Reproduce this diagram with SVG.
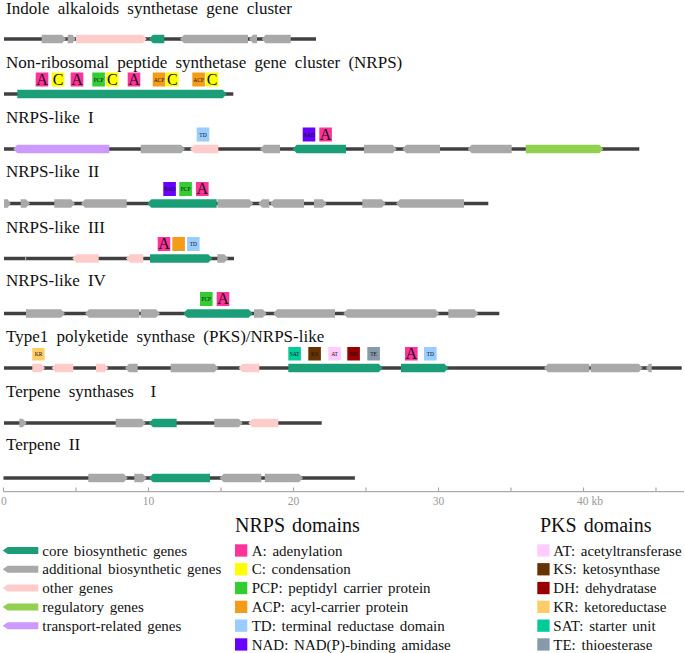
<svg xmlns="http://www.w3.org/2000/svg" width="685" height="653" viewBox="0 0 685 653">
<style>
text{font-family:"Liberation Serif","Times New Roman",serif;fill:#111}
.t{font-size:17px;word-spacing:4px}
.ln{stroke:#404040;stroke-width:3.5}
.core{fill:#1b9e77}.add{fill:#a9a9a9}.oth{fill:#ffcccc}.reg{fill:#92d050}.tr{fill:#cc99ff}
.dA{fill:#ff3399}.dC{fill:#ffff00}.dPCP{fill:#33cc33}.dACP{fill:#f39c1a}.dTD{fill:#99ccff}.dNAD{fill:#6600ff}
.dAT{fill:#ffccff}.dKS{fill:#663300}.dDH{fill:#990000}.dKR{fill:#ffcc66}.dSAT{fill:#00cc99}.dTE{fill:#8899aa}
.big{font-size:16px;text-anchor:middle}
.sm{font-size:5.5px;text-anchor:middle}
.ax{stroke:#aaaaaa;stroke-width:1.2;fill:none}
.axl{font-size:11.5px;fill:#999;text-anchor:middle}
.lg{font-size:15px;word-spacing:2px}
.hd{font-size:20px;word-spacing:2px}
</style>

<g id="track-indole" transform="translate(0,39)">
<text class="t" x="6" y="-25.5">Indole alkaloids synthetase gene cluster</text>
<line class="ln" x1="4" y1="0" x2="316" y2="0"/>
<polygon class="add" points="41.7,-4.25 62,-4.25 66,0 62,4.25 41.7,4.25"/>
<polygon class="add" points="67.7,-4.25 72.5,-4.25 75.5,0 72.5,4.25 67.7,4.25"/>
<polygon class="oth" points="76,-4.25 142.7,-4.25 146.7,0 142.7,4.25 76,4.25"/>
<polygon class="core" points="149,0 153,-4.25 164.3,-4.25 164.3,4.25 153,4.25"/>
<polygon class="add" points="180,0 184,-4.25 248,-4.25 248,4.25 184,4.25"/>
<polygon class="add" points="249,0 253,-4.25 257,-4.25 257,4.25 253,4.25"/>
<polygon class="add" points="261.7,0 265.7,-4.25 290.7,-4.25 290.7,4.25 265.7,4.25"/>
</g>

<g id="track-nrps" transform="translate(0,94)">
<text class="t" x="6" y="-25.7">Non-ribosomal peptide synthetase gene cluster (NRPS)</text>
<rect class="dA" x="35.7" y="-21.5" width="12.6" height="14"/><text class="big" x="42" y="-9.5">A</text>
<rect class="dC" x="51.7" y="-21.5" width="12.6" height="14"/><text class="big" x="58" y="-9.5">C</text>
<rect class="dA" x="70.7" y="-21.5" width="12.6" height="14"/><text class="big" x="77" y="-9.5">A</text>
<rect class="dPCP" x="92.3" y="-21.5" width="12.6" height="14"/><text class="sm" x="98.6" y="-12.5">PCP</text>
<rect class="dC" x="106" y="-21.5" width="12.6" height="14"/><text class="big" x="112.3" y="-9.5">C</text>
<rect class="dA" x="127.7" y="-21.5" width="12.6" height="14"/><text class="big" x="134" y="-9.5">A</text>
<rect class="dACP" x="152.7" y="-21.5" width="12.6" height="14"/><text class="sm" x="159" y="-12.5">ACP</text>
<rect class="dC" x="166" y="-21.5" width="12.6" height="14"/><text class="big" x="172.3" y="-9.5">C</text>
<rect class="dACP" x="192.3" y="-21.5" width="12.6" height="14"/><text class="sm" x="198.6" y="-12.5">ACP</text>
<rect class="dC" x="205.7" y="-21.5" width="12.6" height="14"/><text class="big" x="212" y="-9.5">C</text>
<line class="ln" x1="4" y1="0" x2="233.3" y2="0"/>
<polygon class="core" points="17.3,-4.25 222.7,-4.25 226.7,0 222.7,4.25 17.3,4.25"/>
</g>

<g id="track-nrps-like-1" transform="translate(0,149)">
<text class="t" x="6" y="-25.7">NRPS-like I</text>
<rect class="dTD" x="196.7" y="-21.5" width="12.6" height="14"/><text class="sm" x="203" y="-12.5">TD</text>
<rect class="dNAD" x="302.7" y="-21.5" width="12.6" height="14"/><text class="sm" x="309" y="-12.5">NAD</text>
<rect class="dA" x="319.3" y="-21.5" width="12.6" height="14"/><text class="big" x="325.6" y="-9.5">A</text>
<line class="ln" x1="4" y1="0" x2="639.3" y2="0"/>
<polygon class="tr" points="13.3,0 17.3,-4.25 109.3,-4.25 109.3,4.25 17.3,4.25"/>
<polygon class="add" points="140.7,-4.25 181,-4.25 185,0 181,4.25 140.7,4.25"/>
<polygon class="oth" points="190,0 194,-4.25 218.3,-4.25 218.3,4.25 194,4.25"/>
<polygon class="add" points="260,0 264,-4.25 280,-4.25 280,4.25 264,4.25"/>
<polygon class="core" points="292.7,0 296.7,-4.25 346,-4.25 346,4.25 296.7,4.25"/>
<polygon class="add" points="364,-4.25 392.7,-4.25 396.7,0 392.7,4.25 364,4.25"/>
<polygon class="add" points="402.3,0 406.3,-4.25 440,-4.25 440,4.25 406.3,4.25"/>
<polygon class="add" points="467.7,0 471.7,-4.25 511.7,-4.25 511.7,4.25 471.7,4.25"/>
<polygon class="reg" points="525.7,-4.25 599.3,-4.25 603.3,0 599.3,4.25 525.7,4.25"/>
</g>

<g id="track-nrps-like-2" transform="translate(0,203.5)">
<text class="t" x="6" y="-26.5">NRPS-like II</text>
<rect class="dNAD" x="163.3" y="-21.5" width="12.6" height="14"/><text class="sm" x="169.6" y="-12.5">NAD</text>
<rect class="dPCP" x="179.3" y="-21.5" width="12.6" height="14"/><text class="sm" x="185.6" y="-12.5">PCP</text>
<rect class="dA" x="196" y="-21.5" width="12.6" height="14"/><text class="big" x="202.3" y="-9.5">A</text>
<line class="ln" x1="4" y1="0" x2="488.3" y2="0"/>
<polygon class="add" points="4,-4.25 7.7,-4.25 10.7,0 7.7,4.25 4,4.25"/>
<polygon class="add" points="20.7,-4.25 26,-4.25 30,0 26,4.25 20.7,4.25"/>
<polygon class="add" points="54.3,-4.25 71,-4.25 75,0 71,4.25 54.3,4.25"/>
<polygon class="add" points="81,0 85,-4.25 126.7,-4.25 126.7,4.25 85,4.25"/>
<polygon class="core" points="147.3,0 151.3,-4.25 216.7,-4.25 216.7,4.25 151.3,4.25"/>
<polygon class="add" points="217.5,-4.25 249.3,-4.25 253.3,0 249.3,4.25 217.5,4.25"/>
<polygon class="add" points="258.3,0 262.3,-4.25 269.3,-4.25 269.3,4.25 262.3,4.25"/>
<polygon class="add" points="270,0 274,-4.25 304,-4.25 304,4.25 274,4.25"/>
<polygon class="add" points="314,-4.25 322.7,-4.25 326.7,0 322.7,4.25 314,4.25"/>
<polygon class="add" points="362.3,-4.25 381.7,-4.25 385.7,0 381.7,4.25 362.3,4.25"/>
<polygon class="add" points="396,0 400,-4.25 464,-4.25 464,4.25 400,4.25"/>
</g>

<g id="track-nrps-like-3" transform="translate(0,258.5)">
<text class="t" x="6" y="-25.8">NRPS-like III</text>
<rect class="dA" x="157.7" y="-21.5" width="12.6" height="14"/><text class="big" x="164" y="-9.5">A</text>
<rect class="dACP" x="172.3" y="-21.5" width="12.6" height="14"/>
<rect class="dTD" x="187" y="-21.5" width="12.6" height="14"/><text class="sm" x="193.3" y="-12.5">TD</text>
<line class="ln" x1="4" y1="0" x2="234" y2="0"/>
<rect x="25.2" y="-2.5" width="1" height="5" fill="#c8c8c8"/>
<polygon class="oth" points="72.3,0 76.3,-4.25 98.7,-4.25 98.7,4.25 76.3,4.25"/>
<polygon class="oth" points="126,0 130,-4.25 143.3,-4.25 143.3,4.25 130,4.25"/>
<polygon class="core" points="150,-4.25 208.3,-4.25 212.3,0 208.3,4.25 150,4.25"/>
<polygon class="add" points="217.3,-4.25 224.3,-4.25 228.3,0 224.3,4.25 217.3,4.25"/>
</g>

<g id="track-nrps-like-4" transform="translate(0,313.5)">
<text class="t" x="6" y="-27.5">NRPS-like IV</text>
<rect class="dPCP" x="200" y="-21.5" width="12.6" height="14"/><text class="sm" x="206.3" y="-12.5">PCP</text>
<rect class="dA" x="216.7" y="-21.5" width="12.6" height="14"/><text class="big" x="223" y="-9.5">A</text>
<line class="ln" x1="4" y1="0" x2="499.3" y2="0"/>
<polygon class="add" points="26,-4.25 61,-4.25 65,0 61,4.25 26,4.25"/>
<polygon class="add" points="85,0 89,-4.25 139.3,-4.25 139.3,4.25 89,4.25"/>
<polygon class="add" points="140.7,-4.25 156,-4.25 160,0 156,4.25 140.7,4.25"/>
<polygon class="core" points="183.3,0 187.3,-4.25 248.7,-4.25 252.7,0 248.7,4.25 187.3,4.25"/>
<polygon class="add" points="254,-4.25 262.7,-4.25 266.7,0 262.7,4.25 254,4.25"/>
<polygon class="add" points="273.3,0 277.3,-4.25 335,-4.25 335,4.25 277.3,4.25"/>
<polygon class="add" points="343.3,0 347.3,-4.25 435.3,-4.25 439.3,0 435.3,4.25 347.3,4.25"/>
<polygon class="add" points="448.3,-4.25 474.3,-4.25 478.3,0 474.3,4.25 448.3,4.25"/>
</g>

<g id="track-pks" transform="translate(0,368)">
<text class="t" x="6" y="-26.3">Type1 polyketide synthase (PKS)/NRPS-like</text>
<rect class="dKR" x="32.3" y="-20" width="12.3" height="12.5"/><text class="sm" x="38.5" y="-11.8">KR</text>
<rect class="dSAT" x="288.3" y="-21" width="12.6" height="13.5"/><text class="sm" x="294.6" y="-12.3">SAT</text>
<rect class="dKS" x="308.3" y="-21" width="12.6" height="13.5"/><text class="sm" x="314.6" y="-12.3">KS</text>
<rect class="dAT" x="328.3" y="-21" width="12.6" height="13.5"/><text class="sm" x="334.6" y="-12.3">AT</text>
<rect class="dDH" x="347.3" y="-21" width="12.6" height="13.5"/><text class="sm" x="353.6" y="-12.3">DH</text>
<rect class="dTE" x="367.3" y="-21" width="12.6" height="13.5"/><text class="sm" x="373.6" y="-12.3">TE</text>
<rect class="dA" x="405" y="-21" width="12.6" height="13.5"/><text class="big" x="411.3" y="-9.3">A</text>
<rect class="dTD" x="424" y="-21" width="12.6" height="13.5"/><text class="sm" x="430.3" y="-12.3">TD</text>
<line class="ln" x1="4" y1="0" x2="681.7" y2="0"/>
<polygon class="oth" points="32.3,-4.25 41,-4.25 45,0 41,4.25 32.3,4.25"/>
<polygon class="oth" points="51.7,0 55.7,-4.25 73.3,-4.25 73.3,4.25 55.7,4.25"/>
<polygon class="oth" points="96,-4.25 104.3,-4.25 108.3,0 104.3,4.25 96,4.25"/>
<polygon class="add" points="125,0 129,-4.25 137.7,-4.25 137.7,4.25 129,4.25"/>
<polygon class="add" points="170.7,-4.25 214.3,-4.25 218.3,0 214.3,4.25 170.7,4.25"/>
<polygon class="oth" points="238.7,0 242.7,-4.25 259.3,-4.25 259.3,4.25 242.7,4.25"/>
<polygon class="core" points="288.3,-4.25 378.7,-4.25 382.7,0 378.7,4.25 288.3,4.25"/>
<polygon class="core" points="401,-4.25 444.3,-4.25 448.3,0 444.3,4.25 401,4.25"/>
<polygon class="add" points="544,0 548,-4.25 589.3,-4.25 589.3,4.25 548,4.25"/>
<polygon class="add" points="590.7,-4.25 638.7,-4.25 642.7,0 638.7,4.25 590.7,4.25"/>
<polygon class="add" points="646,0 649,-4.25 651.7,-4.25 651.7,4.25 649,4.25"/>
</g>

<g id="track-terpene-1" transform="translate(0,423)">
<text class="t" x="6" y="-26.3" xml:space="preserve">Terpene synthases&#160; I</text>
<line class="ln" x1="4" y1="0" x2="321.7" y2="0"/>
<polygon class="add" points="19.3,-4.25 22.7,-4.25 26.7,0 22.7,4.25 19.3,4.25"/>
<polygon class="add" points="115.7,-4.25 141.7,-4.25 145.7,0 141.7,4.25 115.7,4.25"/>
<polygon class="core" points="149,0 153,-4.25 176.7,-4.25 176.7,4.25 153,4.25"/>
<polygon class="add" points="214.3,-4.25 238.7,-4.25 242.7,0 238.7,4.25 214.3,4.25"/>
<polygon class="oth" points="248.3,0 252.3,-4.25 278.3,-4.25 278.3,4.25 252.3,4.25"/>
</g>

<g id="track-terpene-2" transform="translate(0,478)">
<text class="t" x="6" y="-27.8">Terpene II</text>
<line class="ln" x1="3.5" y1="0" x2="354.9" y2="0"/>
<polygon class="add" points="88.3,-4.25 123.7,-4.25 127.7,0 123.7,4.25 88.3,4.25"/>
<polygon class="add" points="134.3,-4.25 142.7,-4.25 146.7,0 142.7,4.25 134.3,4.25"/>
<polygon class="core" points="149,0 153,-4.25 210,-4.25 210,4.25 153,4.25"/>
<polygon class="add" points="219.6,0 223.6,-4.25 261.3,-4.25 261.3,4.25 223.6,4.25"/>
<polygon class="add" points="264.8,-4.25 299,-4.25 303,0 299,4.25 264.8,4.25"/>
</g>

<g id="axis">
<path class="ax" d="M3.5,491.7 H684 M3.5,487.5 V491.7 M76,487.5 V491.7 M148.5,487.5 V491.7 M221,487.5 V491.7 M293.5,487.5 V491.7 M366,487.5 V491.7 M438.5,487.5 V491.7 M511,487.5 V491.7 M583.5,487.5 V491.7 M656,487.5 V491.7"/>
<text class="axl" x="3.8" y="504.5">0</text>
<text class="axl" x="148.5" y="504.5">10</text>
<text class="axl" x="293.5" y="504.5">20</text>
<text class="axl" x="438.5" y="504.5">30</text>
<text class="axl" x="577" y="504.5" style="text-anchor:start">40 kb</text>
</g>

<g id="legend-genes">
<polygon class="core" points="2.7,550.5 7.7,547 38.3,547 38.3,554 7.7,554"/>
<text class="lg" x="42.3" y="555.5">core biosynthetic genes</text>
<polygon class="add" points="2.7,569.3 7.7,565.8 38.3,565.8 38.3,572.8 7.7,572.8"/>
<text class="lg" x="42.3" y="574.3">additional biosynthetic genes</text>
<polygon class="oth" points="2.7,588.1 7.7,584.6 38.3,584.6 38.3,591.6 7.7,591.6"/>
<text class="lg" x="42.3" y="593.1">other genes</text>
<polygon class="reg" points="2.7,606.9 7.7,603.4 38.3,603.4 38.3,610.4 7.7,610.4"/>
<text class="lg" x="42.3" y="611.9">regulatory genes</text>
<polygon class="tr" points="2.7,625.7 7.7,622.2 38.3,622.2 38.3,629.2 7.7,629.2"/>
<text class="lg" x="42.3" y="630.7">transport-related genes</text>
</g>

<g id="legend-nrps">
<text class="hd" x="235" y="532">NRPS domains</text>
<rect class="dA" x="235" y="544.3" width="12.3" height="12.3"/><text class="lg" x="251.7" y="555.5">A: adenylation</text>
<rect class="dC" x="235" y="563.1" width="12.3" height="12.3"/><text class="lg" x="251.7" y="574.3">C: condensation</text>
<rect class="dPCP" x="235" y="581.9" width="12.3" height="12.3"/><text class="lg" x="251.7" y="593.1">PCP: peptidyl carrier protein</text>
<rect class="dACP" x="235" y="600.7" width="12.3" height="12.3"/><text class="lg" x="251.7" y="611.9">ACP: acyl-carrier protein</text>
<rect class="dTD" x="235" y="619.5" width="12.3" height="12.3"/><text class="lg" x="251.7" y="630.7">TD: terminal reductase domain</text>
<rect class="dNAD" x="235" y="638.3" width="12.3" height="12.3"/><text class="lg" x="251.7" y="649.5">NAD: NAD(P)-binding amidase</text>
</g>

<g id="legend-pks">
<text class="hd" x="540" y="532">PKS domains</text>
<rect class="dAT" x="537.3" y="544.3" width="12.3" height="12.3"/><text class="lg" x="553.3" y="555.5">AT: acetyltransferase</text>
<rect class="dKS" x="537.3" y="563.1" width="12.3" height="12.3"/><text class="lg" x="553.3" y="574.3">KS: ketosynthase</text>
<rect class="dDH" x="537.3" y="581.9" width="12.3" height="12.3"/><text class="lg" x="553.3" y="593.1">DH: dehydratase</text>
<rect class="dKR" x="537.3" y="600.7" width="12.3" height="12.3"/><text class="lg" x="553.3" y="611.9">KR: ketoreductase</text>
<rect class="dSAT" x="537.3" y="619.5" width="12.3" height="12.3"/><text class="lg" x="553.3" y="630.7">SAT: starter unit</text>
<rect class="dTE" x="537.3" y="638.3" width="12.3" height="12.3"/><text class="lg" x="553.3" y="649.5">TE: thioesterase</text>
</g>
</svg>
